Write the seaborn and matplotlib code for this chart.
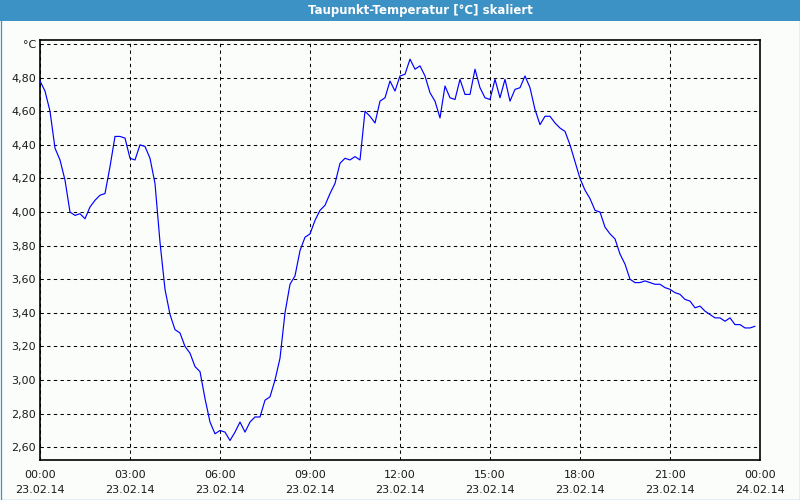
import matplotlib
matplotlib.use("Agg")
import matplotlib.pyplot as plt
import matplotlib.dates as mdates
from matplotlib.patches import Rectangle
from matplotlib.ticker import FixedLocator, FuncFormatter
import numpy as np
import pandas as pd
import seaborn as sns

# ---------------- data ----------------
title = "Taupunkt-Temperatur [°C] skaliert"
start_time = "2014-02-23 00:00"
end_time = "2014-02-24 00:00"
n_points = 144  # 10-minute readings

dew_00_06 = [4.78, 4.72, 4.60, 4.38, 4.31, 4.19, 4.00, 3.98, 3.99, 3.96, 4.03, 4.07,
             4.10, 4.11, 4.27, 4.45, 4.45, 4.44, 4.32, 4.31, 4.40, 4.39, 4.32, 4.17,
             3.82, 3.54, 3.39, 3.30, 3.28, 3.20, 3.16, 3.08, 3.05, 2.89, 2.75, 2.68]
dew_06_12 = [2.70, 2.69, 2.64, 2.69, 2.75, 2.69, 2.75, 2.78, 2.78, 2.88, 2.90, 3.00,
             3.13, 3.40, 3.57, 3.62, 3.77, 3.85, 3.87, 3.95, 4.01, 4.04, 4.11, 4.17,
             4.29, 4.32, 4.31, 4.33, 4.31, 4.60, 4.57, 4.53, 4.66, 4.68, 4.78, 4.72]
dew_12_18 = [4.81, 4.82, 4.91, 4.85, 4.87, 4.81, 4.71, 4.66, 4.56, 4.75, 4.68, 4.67,
             4.79, 4.70, 4.70, 4.85, 4.74, 4.68, 4.67, 4.79, 4.68, 4.79, 4.66, 4.73,
             4.74, 4.81, 4.74, 4.61, 4.52, 4.57, 4.57, 4.53, 4.50, 4.48, 4.40, 4.30]
dew_18_24 = [4.20, 4.13, 4.08, 4.01, 4.00, 3.91, 3.87, 3.84, 3.75, 3.69, 3.60, 3.58,
             3.58, 3.59, 3.58, 3.57, 3.57, 3.55, 3.54, 3.52, 3.51, 3.48, 3.47, 3.43,
             3.44, 3.41, 3.39, 3.37, 3.37, 3.35, 3.37, 3.33, 3.33, 3.31, 3.31, 3.32]

y_ticks = [2.6, 2.8, 3.0, 3.2, 3.4, 3.6, 3.8, 4.0, 4.2, 4.4, 4.6, 4.8, 5.0]
y_labels = ["2,60", "2,80", "3,00", "3,20", "3,40", "3,60", "3,80",
            "4,00", "4,20", "4,40", "4,60", "4,80", "°C"]

# ---------------- build frame ----------------
times = pd.date_range(start_time, periods=n_points, freq="10min")
values = dew_00_06 + dew_06_12 + dew_12_18 + dew_18_24
df = pd.DataFrame({"Zeit": times, "Taupunkt": values})

# ---------------- style ----------------
sns.set_theme(style="white")
plt.rcParams["font.family"] = ["DejaVu Sans"]

bg = "#fbfdfb"
bar_color = "#3c91c5"
W, H = 800, 500

fig = plt.figure(figsize=(8, 5), dpi=100, facecolor=bg)
ax = fig.add_axes([40 / W, 40 / H, 720 / W, 420 / H])
ax.set_facecolor(bg)

sns.lineplot(data=df, x="Zeit", y="Taupunkt", ax=ax, color="#0000ff",
             linewidth=0.85, zorder=3)

ax.set_xlim(pd.Timestamp(start_time), pd.Timestamp(end_time))
ax.set_ylim(2.524, 5.024)
ax.set_xlabel("")
ax.set_ylabel("")

# y axis
ax.yaxis.set_major_locator(FixedLocator(y_ticks))
ax.yaxis.set_major_formatter(FuncFormatter(
    lambda v, p: y_labels[int(round((v - y_ticks[0]) / 0.2))]
    if 0 <= int(round((v - y_ticks[0]) / 0.2)) < len(y_labels) else ""))
ax.tick_params(axis="y", which="both", length=0, pad=2.8, labelsize=8,
               labelcolor="#1a1a1a")

# x axis
ax.xaxis.set_major_locator(mdates.HourLocator(byhour=range(0, 24, 3)))
ax.xaxis.set_minor_locator(mdates.HourLocator(interval=1))
ax.xaxis.set_major_formatter(mdates.DateFormatter("%H:%M\n%d.%m.%y"))
ax.tick_params(axis="x", which="both", direction="out", length=3, width=0.8,
               color="black", pad=4, labelsize=8, labelcolor="#1a1a1a")
for lab in ax.get_xticklabels():
    lab.set_linespacing(1.6)

# grid
ax.set_axisbelow(True)
ax.grid(True, which="major", color="black", linestyle=(0, (3.2, 3.2)),
        linewidth=0.75)
ax.grid(False, which="minor")

for sp in ax.spines.values():
    sp.set_visible(True)
    sp.set_color("black")
    sp.set_linewidth(1.2)

# title bar
fig.patches.append(Rectangle((0, 1 - 21 / H), 1, 21 / H, transform=fig.transFigure,
                             facecolor=bar_color, edgecolor="none", zorder=0))
fig.text(420 / W, 1 - 10.5 / H, title, ha="center", va="center", color="white",
         fontsize=8.5, fontweight="bold")
# outer border
fig.patches.append(Rectangle((0.5 / W, 0.5 / H), 1 - 1 / W, 1 - 1 / H,
                             transform=fig.transFigure, facecolor="none",
                             edgecolor=bar_color, linewidth=0.9, zorder=5))

fig.savefig("out.png", dpi=100, facecolor=bg)
